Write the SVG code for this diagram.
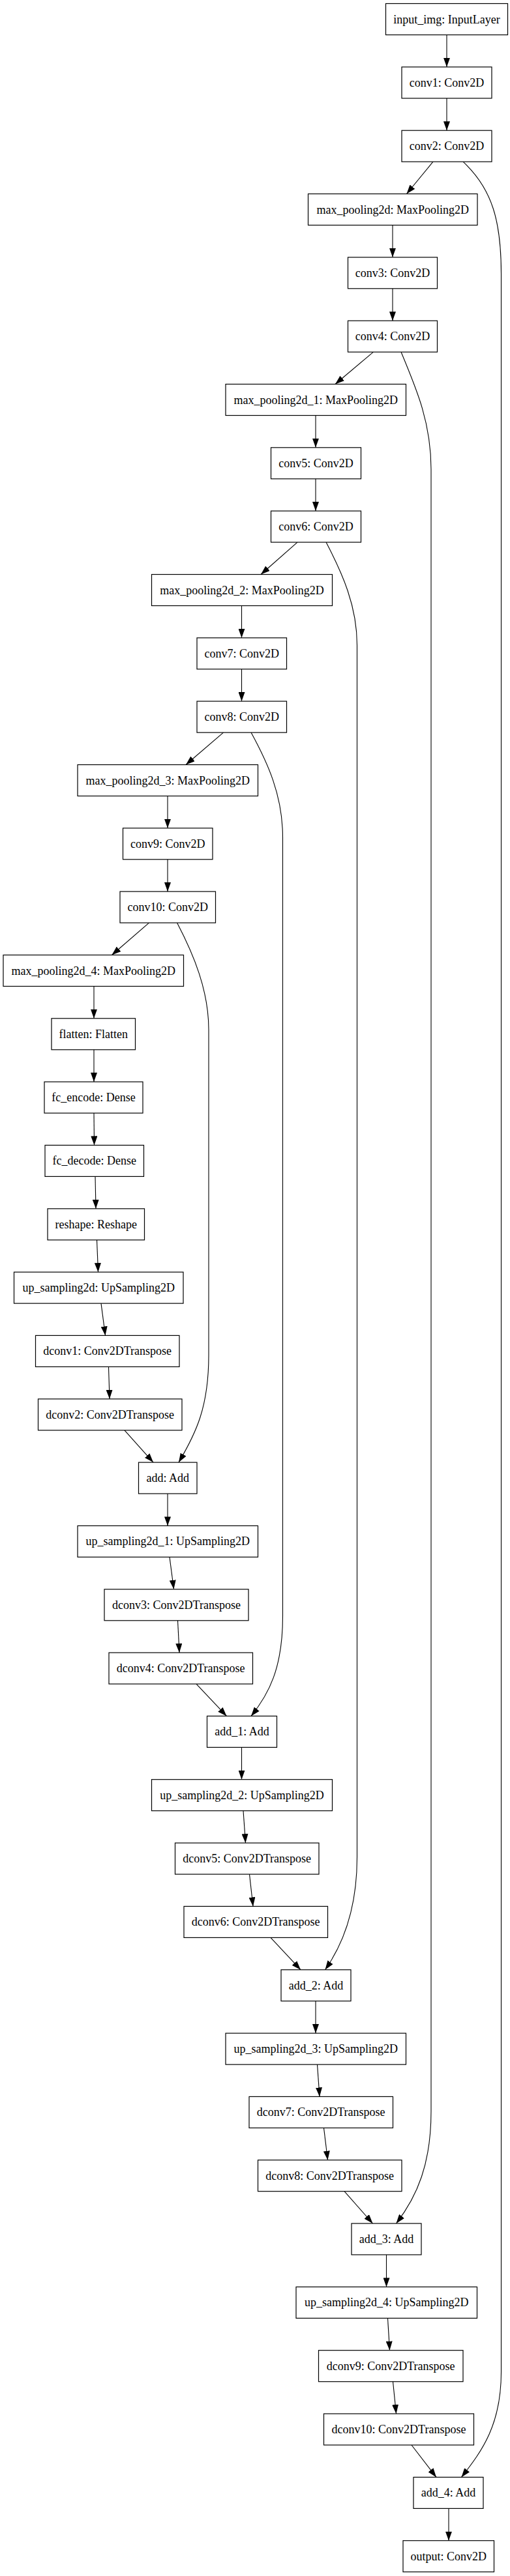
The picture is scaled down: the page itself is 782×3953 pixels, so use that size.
<svg xmlns="http://www.w3.org/2000/svg" width="782" height="3953" viewBox="0 0 782 3953">
<style>
.node rect{fill:#fff;stroke:#000;stroke-width:1.2}
.node text{font-family:"Liberation Serif","Times New Roman",serif;font-size:18px;text-anchor:middle;fill:#000}
#edges path{fill:none;stroke:#000;stroke-width:1.1;marker-end:url(#arr)}
</style>
<defs>
<marker id="arr" markerUnits="userSpaceOnUse" markerWidth="14" markerHeight="10" viewBox="0 0 14 10" refX="14" refY="5" orient="auto">
<path d="M0,0 L14,5 L0,10 z" fill="#000"/>
</marker>
</defs>
<rect width="782" height="3953" fill="#fff"/>
<g id="edges">
<path d="M685,53.5 L685,102.8"/>
<path d="M685,150.8 L685,200.2"/>
<path d="M664,248.2 L623.5,297.5"/>
<path d="M710,248.2 C755,290 768.5,340 768.5,420 L768.5,3640 C768.5,3720 740,3760 707.5,3801.4"/>
<path d="M602,345.5 L602,394.8"/>
<path d="M602,442.8 L602,492.2"/>
<path d="M572.5,540.2 L514,589.5"/>
<path d="M615,540.2 C640,600 661,650 661,720 L661,3240 C661,3320 640,3370 607.5,3412"/>
<path d="M484,637.5 L484,686.8"/>
<path d="M484,734.8 L484,784.1"/>
<path d="M456,832.1 L400,881.5"/>
<path d="M500,832.1 C525,880 547.5,930 547.5,990 L547.5,2850 C547.5,2930 525,2985 498.5,3022.7"/>
<path d="M370.5,929.5 L370.5,978.8"/>
<path d="M370.5,1026.8 L370.5,1076.1"/>
<path d="M342.5,1124.1 L285,1173.5"/>
<path d="M385,1124.1 C410,1170 433.5,1220 433.5,1285 L433.5,2480 C433.5,2560 412,2600 385,2633.4"/>
<path d="M257,1221.5 L257,1270.8"/>
<path d="M257,1318.8 L257,1368.1"/>
<path d="M228.5,1416.1 L171.5,1465.5"/>
<path d="M271.5,1416.1 C297,1465 320,1520 320,1580 L320,2080 C320,2160 300,2200 274,2244.1"/>
<path d="M144,1513.5 L144,1562.8"/>
<path d="M144,1610.8 L144,1660.1"/>
<path d="M144,1708.1 L144.5,1757.4"/>
<path d="M146,1805.4 L147,1854.8"/>
<path d="M148.5,1902.8 L150.5,1952.1"/>
<path d="M155,2000.1 L161.5,2049.4"/>
<path d="M166.5,2097.4 L168,2146.8"/>
<path d="M191,2194.8 L235,2244.1"/>
<path d="M257,2292.1 L257,2341.4"/>
<path d="M260,2389.4 L266.5,2438.8"/>
<path d="M272.5,2486.8 L275,2536.1"/>
<path d="M301,2584.1 L347.5,2633.4"/>
<path d="M370.5,2681.4 L370.5,2730.7"/>
<path d="M373,2778.7 L376.5,2828.1"/>
<path d="M382.5,2876.1 L388,2925.4"/>
<path d="M415,2973.4 L461,3022.7"/>
<path d="M484,3070.7 L484,3120.1"/>
<path d="M486.5,3168.1 L490,3217.4"/>
<path d="M496.5,3265.4 L502.5,3314.7"/>
<path d="M528,3362.7 L571.5,3412"/>
<path d="M592.5,3460 L592.5,3509.4"/>
<path d="M594.5,3557.4 L597.5,3606.7"/>
<path d="M602.5,3654.7 L607.5,3704"/>
<path d="M631,3752 L669,3801.4"/>
<path d="M688,3849.4 L688,3898.7"/>
</g>
<g id="input_img" class="node"><rect x="591.5" y="5.5" width="187" height="48"/><text x="685" y="35.5">input_img: InputLayer</text></g>
<g id="conv1" class="node"><rect x="616" y="102.8" width="138" height="48"/><text x="685" y="132.8">conv1: Conv2D</text></g>
<g id="conv2" class="node"><rect x="616" y="200.2" width="138" height="48"/><text x="685" y="230.2">conv2: Conv2D</text></g>
<g id="max_pooling2d" class="node"><rect x="472.5" y="297.5" width="259.5" height="48"/><text x="602.2" y="327.5">max_pooling2d: MaxPooling2D</text></g>
<g id="conv3" class="node"><rect x="533.5" y="394.8" width="137" height="48"/><text x="602" y="424.8">conv3: Conv2D</text></g>
<g id="conv4" class="node"><rect x="533.5" y="492.2" width="137" height="48"/><text x="602" y="522.2">conv4: Conv2D</text></g>
<g id="max_pooling2d_1" class="node"><rect x="346" y="589.5" width="276.5" height="48"/><text x="484.2" y="619.5">max_pooling2d_1: MaxPooling2D</text></g>
<g id="conv5" class="node"><rect x="415.5" y="686.8" width="138" height="48"/><text x="484.5" y="716.8">conv5: Conv2D</text></g>
<g id="conv6" class="node"><rect x="415.5" y="784.1" width="138" height="48"/><text x="484.5" y="814.1">conv6: Conv2D</text></g>
<g id="max_pooling2d_2" class="node"><rect x="232.5" y="881.5" width="277" height="48"/><text x="371" y="911.5">max_pooling2d_2: MaxPooling2D</text></g>
<g id="conv7" class="node"><rect x="302" y="978.8" width="137.5" height="48"/><text x="370.7" y="1008.8">conv7: Conv2D</text></g>
<g id="conv8" class="node"><rect x="302" y="1076.1" width="137.5" height="48"/><text x="370.7" y="1106.1">conv8: Conv2D</text></g>
<g id="max_pooling2d_3" class="node"><rect x="119" y="1173.5" width="276.5" height="48"/><text x="257.2" y="1203.5">max_pooling2d_3: MaxPooling2D</text></g>
<g id="conv9" class="node"><rect x="188.5" y="1270.8" width="137.5" height="48"/><text x="257.2" y="1300.8">conv9: Conv2D</text></g>
<g id="conv10" class="node"><rect x="184" y="1368.1" width="146.5" height="48"/><text x="257.2" y="1398.1">conv10: Conv2D</text></g>
<g id="max_pooling2d_4" class="node"><rect x="5" y="1465.5" width="276.5" height="48"/><text x="143.2" y="1495.5">max_pooling2d_4: MaxPooling2D</text></g>
<g id="flatten" class="node"><rect x="79" y="1562.8" width="128.5" height="48"/><text x="143.2" y="1592.8">flatten: Flatten</text></g>
<g id="fc_encode" class="node"><rect x="68" y="1660.1" width="151" height="48"/><text x="143.5" y="1690.1">fc_encode: Dense</text></g>
<g id="fc_decode" class="node"><rect x="69" y="1757.4" width="151.5" height="48"/><text x="144.7" y="1787.4">fc_decode: Dense</text></g>
<g id="reshape" class="node"><rect x="73" y="1854.8" width="148.5" height="48"/><text x="147.2" y="1884.8">reshape: Reshape</text></g>
<g id="up_sampling2d" class="node"><rect x="21.5" y="1952.1" width="259.5" height="48"/><text x="151.2" y="1982.1">up_sampling2d: UpSampling2D</text></g>
<g id="dconv1" class="node"><rect x="54.5" y="2049.4" width="220.5" height="48"/><text x="164.7" y="2079.4">dconv1: Conv2DTranspose</text></g>
<g id="dconv2" class="node"><rect x="58.5" y="2146.8" width="220.5" height="48"/><text x="168.7" y="2176.8">dconv2: Conv2DTranspose</text></g>
<g id="add" class="node"><rect x="212.5" y="2244.1" width="89.5" height="48"/><text x="257.2" y="2274.1">add: Add</text></g>
<g id="up_sampling2d_1" class="node"><rect x="119" y="2341.4" width="276.5" height="48"/><text x="257.2" y="2371.4">up_sampling2d_1: UpSampling2D</text></g>
<g id="dconv3" class="node"><rect x="160" y="2438.8" width="221" height="48"/><text x="270.5" y="2468.8">dconv3: Conv2DTranspose</text></g>
<g id="dconv4" class="node"><rect x="167" y="2536.1" width="220.5" height="48"/><text x="277.2" y="2566.1">dconv4: Conv2DTranspose</text></g>
<g id="add_1" class="node"><rect x="317.5" y="2633.4" width="107" height="48"/><text x="371" y="2663.4">add_1: Add</text></g>
<g id="up_sampling2d_2" class="node"><rect x="232.5" y="2730.7" width="277" height="48"/><text x="371" y="2760.7">up_sampling2d_2: UpSampling2D</text></g>
<g id="dconv5" class="node"><rect x="268.5" y="2828.1" width="220.5" height="48"/><text x="378.7" y="2858.1">dconv5: Conv2DTranspose</text></g>
<g id="dconv6" class="node"><rect x="282" y="2925.4" width="220.5" height="48"/><text x="392.2" y="2955.4">dconv6: Conv2DTranspose</text></g>
<g id="add_2" class="node"><rect x="431" y="3022.7" width="107" height="48"/><text x="484.5" y="3052.7">add_2: Add</text></g>
<g id="up_sampling2d_3" class="node"><rect x="346" y="3120.1" width="276.5" height="48"/><text x="484.2" y="3150.1">up_sampling2d_3: UpSampling2D</text></g>
<g id="dconv7" class="node"><rect x="382" y="3217.4" width="220.5" height="48"/><text x="492.2" y="3247.4">dconv7: Conv2DTranspose</text></g>
<g id="dconv8" class="node"><rect x="395.5" y="3314.7" width="220.5" height="48"/><text x="505.7" y="3344.7">dconv8: Conv2DTranspose</text></g>
<g id="add_3" class="node"><rect x="539" y="3412" width="107" height="48"/><text x="592.5" y="3442">add_3: Add</text></g>
<g id="up_sampling2d_4" class="node"><rect x="454" y="3509.4" width="277.5" height="48"/><text x="592.7" y="3539.4">up_sampling2d_4: UpSampling2D</text></g>
<g id="dconv9" class="node"><rect x="488.5" y="3606.7" width="221.5" height="48"/><text x="599.2" y="3636.7">dconv9: Conv2DTranspose</text></g>
<g id="dconv10" class="node"><rect x="496.5" y="3704" width="230" height="48"/><text x="611.5" y="3734">dconv10: Conv2DTranspose</text></g>
<g id="add_4" class="node"><rect x="634" y="3801.4" width="107" height="48"/><text x="687.5" y="3831.4">add_4: Add</text></g>
<g id="output" class="node"><rect x="618" y="3898.7" width="139.5" height="48"/><text x="687.7" y="3928.7">output: Conv2D</text></g>
</svg>
